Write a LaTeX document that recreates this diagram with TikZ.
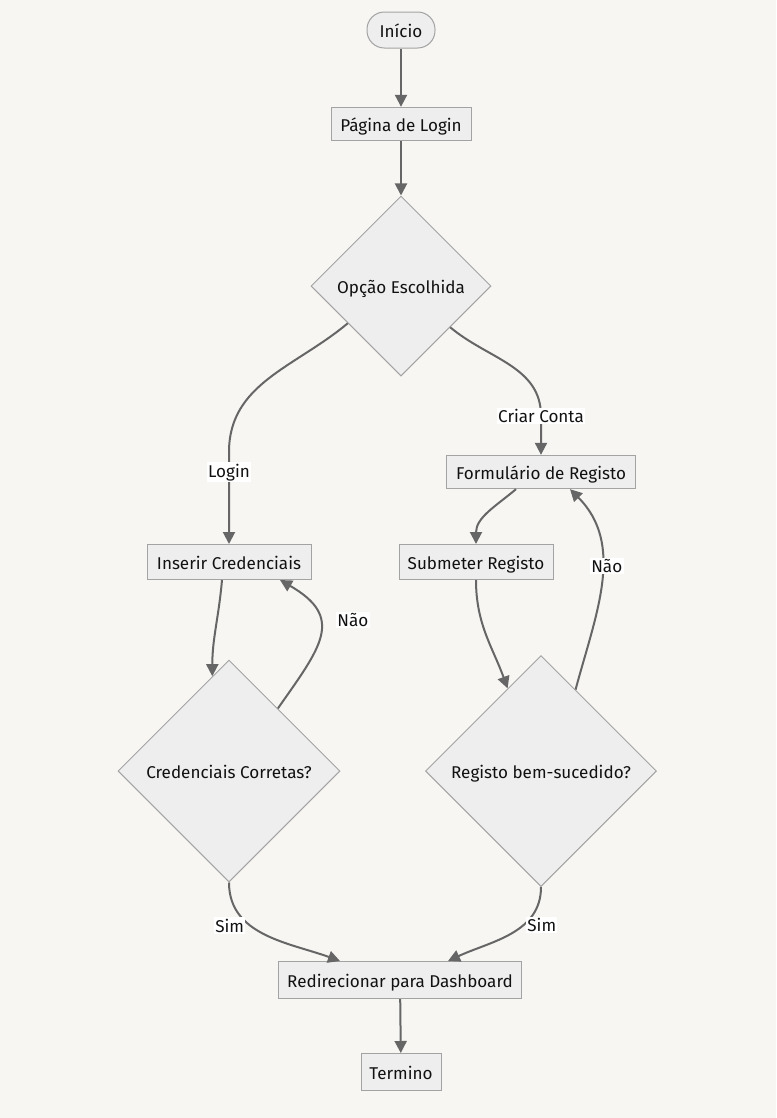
\documentclass[tikz,border=0pt]{standalone}
\usepackage{fontspec}
\setmainfont{Fira Sans}
\usetikzlibrary{shapes.geometric,arrows.meta}
\definecolor{bgc}{HTML}{F7F6F3}
\definecolor{nodefill}{HTML}{EEEEEE}
\definecolor{nodeline}{HTML}{A3A3A3}
\definecolor{edgec}{HTML}{666666}
\definecolor{txt}{HTML}{111111}
\tikzset{
  every node/.style={font=\fontsize{12.8}{15}\selectfont, text=txt},
  boxtext/.style={text height=11.5pt, text depth=0pt},
  proc/.style={draw=nodeline, fill=nodefill, line width=0.75pt, rectangle,
    minimum height=25pt, inner sep=4pt, boxtext},
  term/.style={proc, rounded corners=13pt},
  choice/.style={draw=nodeline, fill=nodefill, line width=0.75pt, diamond,
    aspect=1, inner sep=0pt, boxtext},
  edge/.style={draw=edgec, line width=1.5pt,
    -{Triangle[length=9pt,width=9pt]}},
  lbl/.style={fill=white, inner sep=1pt}
}
\begin{document}
\begin{tikzpicture}[x=0.75pt, y=-0.75pt]
  \fill[bgc] (0,0) rectangle (776,1118);
  \useasboundingbox (0,0) rectangle (776,1118);

  % nodes
  \node[term, minimum width=51pt, minimum height=27pt] (inicio) at (401,30) {Início};
  \node[proc, minimum width=105pt] (pagina) at (401,124) {Página de Login};
  \node[choice, minimum width=135pt, minimum height=135pt] (opcao) at (401,286) {Opção Escolhida};
  \node[proc, minimum width=141.75pt] (formulario) at (541,472) {Formulário de Registo};
  \node[proc, minimum width=123pt, minimum height=26.25pt] (inserir) at (229,562) {Inserir Credenciais};
  \node[proc, minimum width=115.5pt, minimum height=26.25pt] (submeter) at (476,562) {Submeter Registo};
  \node[choice, minimum width=166.5pt, minimum height=166.5pt] (cred) at (229,771) {Credenciais Corretas?};
  \node[choice, minimum width=173.25pt, minimum height=173.25pt] (registo) at (541,771) {Registo bem-sucedido?};
  \node[proc, minimum width=182.25pt, minimum height=27.75pt] (redirect) at (400,980) {Redirecionar para Dashboard};
  \node[proc, minimum width=60pt, minimum height=27.75pt] (termino) at (401,1072) {Termino};

  % bend points of the two branches
  \coordinate (wl) at (229,452);
  \coordinate (wr) at (541,416);

  % connectors
  \draw[edge] (inicio) -- (pagina);
  \draw[edge] (pagina) -- (opcao);
  \draw[edge] (opcao.215) to[out=220,in=90] (wl) -- node[lbl,pos=0.22]{Login} (inserir.north);
  \draw[edge] (opcao.320) to[out=-40,in=90] (wr) -- node[lbl,pos=0]{Criar Conta} (formulario.north);
  \draw[edge] ([xshift=-5.25pt]inserir.south) to[out=-95,in=90] (cred.100);
  \draw[edge] (cred.52) to[out=55,in=-30,looseness=1.5]
      node[lbl,pos=0.55,xshift=24.5pt,yshift=6.75pt]{Não} ([xshift=38.25pt]inserir.south);
  \draw[edge] ([xshift=-18.75pt]formulario.south) to[out=-140,in=90] (submeter.north);
  \draw[edge] (submeter.south) to[out=-90,in=110] (registo.112);
  \draw[edge] (registo.67) to[out=75,in=-45]
      node[lbl,pos=0.6,xshift=3.75pt,yshift=-3pt]{Não} ([xshift=21.75pt]formulario.south);
  \draw[edge] (cred.south) to[out=-90,in=160]
      node[lbl,pos=0.37,xshift=-15.5pt]{Sim} ([xshift=-45pt]redirect.north);
  \draw[edge] (registo.south) to[out=-90,in=25]
      node[lbl,pos=0.37,xshift=14pt]{Sim} ([xshift=36pt]redirect.north);
  \draw[edge] (redirect) -- (termino);
\end{tikzpicture}
\end{document}
